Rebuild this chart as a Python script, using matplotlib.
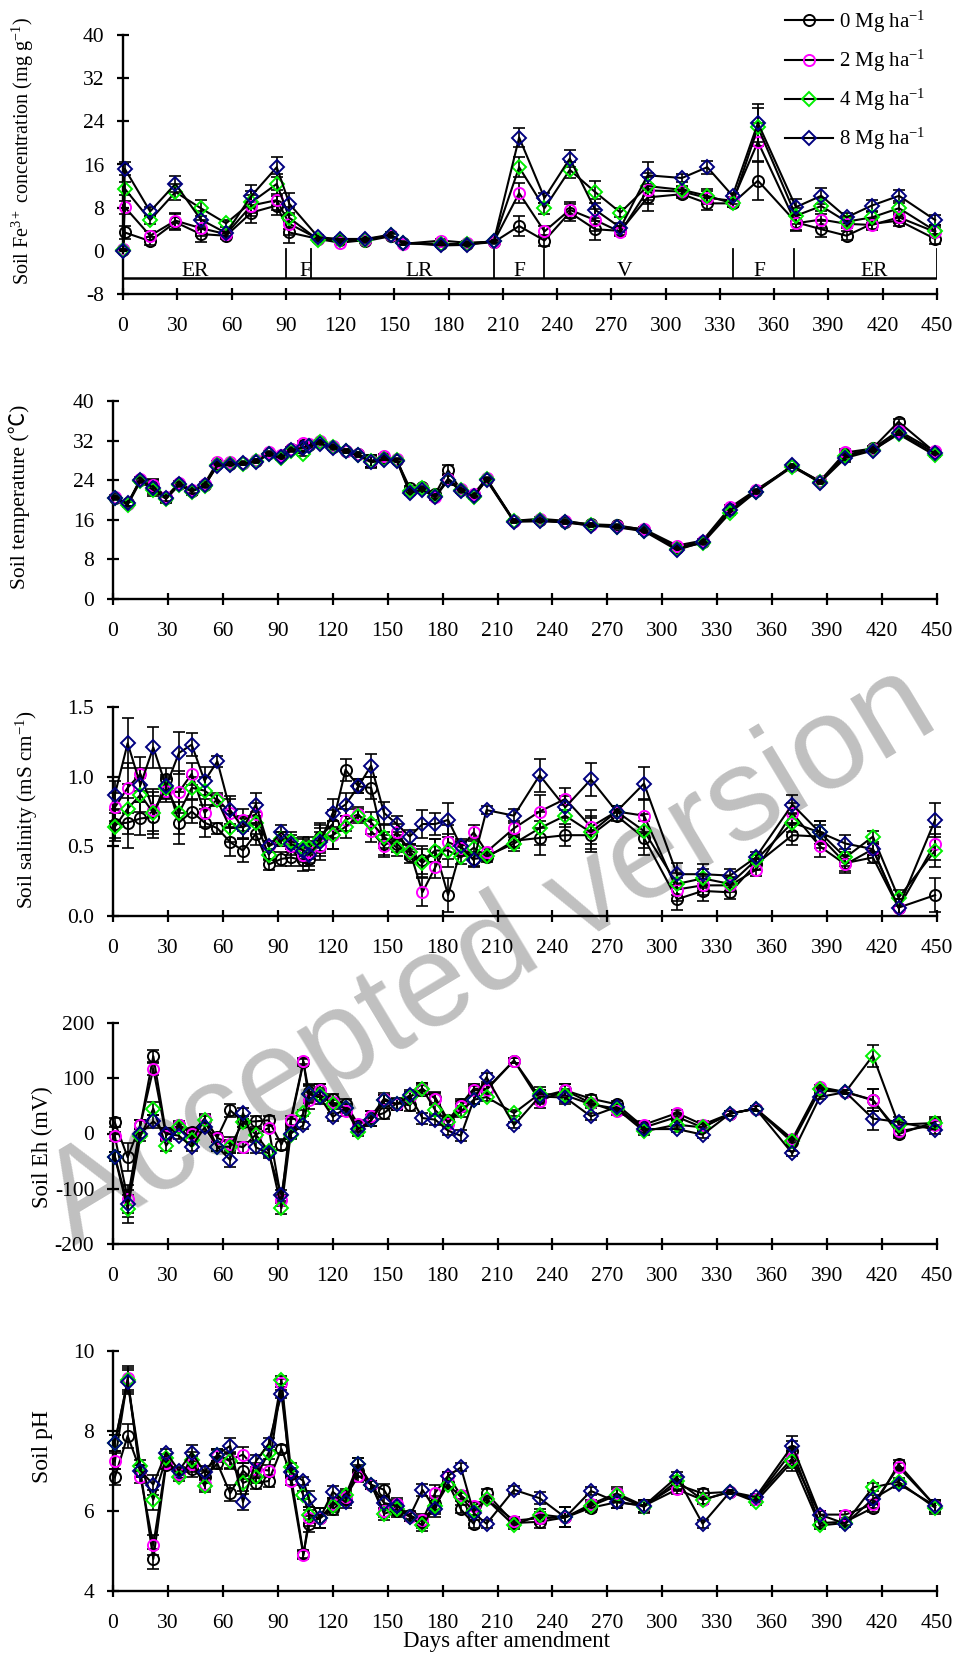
import matplotlib
matplotlib.use("Agg")
import matplotlib.pyplot as plt

# ======================
# FONTS
# ======================
plt.rcParams['font.family'] = ['Liberation Serif', 'DejaVu Serif']
plt.rcParams['mathtext.fontset'] = 'custom'
plt.rcParams['mathtext.rm'] = 'Liberation Serif'
plt.rcParams['mathtext.it'] = 'Liberation Serif:italic'
plt.rcParams['axes.unicode_minus'] = False

# ======================
# DATA
# ======================
# Fe3+ panel has its own sampling days
days_fe = [0, 1, 15, 29, 43, 57, 71, 85, 92, 108, 120, 134, 148, 155, 176, 190, 205,
           219, 233, 247, 261, 275, 290, 309, 323, 337, 351, 372, 386, 400, 414, 429, 449]
fe_0 = [0.2, 3.4, 1.8, 5.3, 3.1, 2.8, 7.1, 8.4, 3.4, 2.2, 2.0, 1.8, 2.7, 1.4, 1.3, 1.2, 1.6,
        4.6, 1.9, 7.1, 4.0, 3.7, 9.9, 10.5, 8.8, 8.8, 13.0, 5.3, 4.0, 2.8, 5.0, 5.6, 2.2]
fe_2 = [0.4, 8.1, 2.8, 5.6, 4.2, 3.1, 8.4, 9.4, 5.0, 2.2, 1.5, 2.0, 2.9, 1.3, 1.9, 1.5, 1.7,
        10.7, 3.6, 7.6, 5.7, 3.5, 11.2, 11.0, 9.8, 9.3, 20.2, 5.1, 5.8, 5.0, 4.8, 6.2, 3.5]
fe_4 = [0.2, 11.5, 5.7, 10.9, 7.9, 5.1, 9.0, 12.4, 6.1, 2.0, 2.0, 2.1, 2.9, 1.4, 1.2, 1.3, 1.8,
        15.5, 7.9, 15.0, 10.9, 7.1, 12.0, 11.3, 10.2, 8.8, 22.9, 6.5, 8.3, 5.4, 6.2, 7.9, 3.7]
fe_8 = [0.0, 15.2, 7.3, 12.4, 5.8, 3.3, 10.2, 15.5, 8.7, 2.5, 2.2, 2.2, 3.0, 1.5, 1.0, 1.1, 1.8,
        21.0, 9.8, 17.1, 7.6, 4.3, 14.0, 13.5, 15.5, 10.2, 23.7, 8.1, 10.2, 6.2, 8.4, 10.2, 5.7]
fe_err = [0.0, 1.2, 0.8, 1.5, 1.5, 0.6, 2.0, 1.8, 2.0, 0.4, 0.3, 0.3, 0.4, 0.3, 0.3, 0.3, 0.3,
          1.8, 1.0, 1.5, 2.0, 0.8, 2.5, 0.8, 1.2, 0.6, 3.5, 1.5, 1.5, 0.8, 1.0, 1.0, 1.0]

# crop stages drawn under the Fe3+ data
stage_bounds = [90, 104, 205, 233, 337, 371, 450]
stage_labels = ['ER', 'F', 'LR', 'F', 'V', 'F', 'ER']
stage_label_x = [40, 101, 164, 219, 277, 352, 415]

# sampling days for the other four panels
days = [1, 8, 15, 22, 29, 36, 43, 50, 57, 64, 71, 78, 85, 92, 97, 104, 107, 113, 120, 127,
        134, 141, 148, 155, 162, 169, 176, 183, 190, 197, 204, 219, 233, 247, 261, 275, 290,
        308, 322, 337, 351, 371, 386, 400, 415, 429, 449]

temp_0 = [20.5, 19.3, 24.0, 22.8, 20.4, 23.2, 21.9, 23.0, 27.3, 27.3, 27.4, 27.9, 29.4, 28.8,
          30.3, 31.2, 31.2, 31.8, 30.8, 29.9, 29.2, 27.8, 28.5, 28.0, 22.5, 22.6, 21.2, 26.0,
          22.0, 21.0, 24.2, 15.8, 15.9, 15.6, 15.1, 14.9, 14.0, 10.4, 11.6, 18.2, 21.8, 26.9,
          23.8, 29.0, 30.5, 35.8, 29.6]
temp_2 = [20.7, 19.2, 24.3, 23.1, 20.6, 23.5, 22.0, 23.3, 27.6, 27.6, 27.5, 28.0, 29.7, 29.0,
          30.4, 31.6, 31.4, 31.9, 31.0, 30.0, 29.3, 27.9, 28.8, 28.2, 21.8, 22.4, 20.7, 24.3,
          22.3, 21.2, 24.4, 15.8, 16.2, 15.8, 15.0, 14.7, 14.1, 10.8, 11.8, 18.5, 22.0, 26.8,
          23.8, 29.6, 30.4, 34.0, 29.8]
temp_4 = [20.4, 19.0, 23.8, 22.0, 20.2, 23.0, 21.7, 22.8, 27.1, 27.2, 27.3, 27.8, 29.2, 28.4,
          30.0, 29.2, 31.0, 31.8, 30.7, 29.8, 29.0, 27.8, 28.3, 28.0, 21.9, 22.4, 20.8, 24.1,
          22.0, 20.6, 24.2, 15.7, 15.9, 15.5, 14.9, 14.6, 13.8, 10.2, 11.3, 17.4, 21.6, 26.7,
          23.6, 28.8, 30.1, 33.3, 29.0]
temp_8 = [20.5, 19.3, 24.0, 22.5, 20.4, 23.2, 21.8, 23.0, 26.9, 27.1, 27.4, 27.7, 29.2, 28.6,
          30.1, 30.6, 31.0, 31.4, 30.5, 29.8, 29.0, 27.6, 28.1, 27.9, 21.5, 22.0, 20.6, 24.0,
          21.8, 20.8, 24.0, 15.6, 15.7, 15.5, 14.8, 14.5, 13.7, 9.9, 11.5, 17.9, 21.6, 27.0,
          23.5, 28.5, 30.0, 33.6, 29.4]
temp_err = [0.3, 0.5, 0.4, 1.2, 0.8, 0.4, 0.6, 0.3, 0.3, 0.3, 0.3, 0.3, 0.3, 0.4, 0.3, 0.4,
            0.4, 0.3, 0.3, 0.4, 0.4, 1.2, 0.5, 0.3, 0.4, 0.3, 0.5, 1.0, 0.3, 0.3, 0.3, 0.3,
            0.3, 0.3, 0.3, 0.3, 0.5, 0.3, 0.3, 0.4, 0.3, 0.3, 0.3, 0.8, 0.4, 0.6, 0.4]

sal_0 = [0.66, 0.67, 0.70, 0.71, 0.98, 0.67, 0.75, 0.67, 0.63, 0.53, 0.47, 0.59, 0.37, 0.41,
         0.42, 0.40, 0.41, 0.57, 0.66, 1.05, 0.93, 0.92, 0.52, 0.52, 0.43, 0.40, 0.47, 0.15,
         0.48, 0.41, 0.42, 0.54, 0.56, 0.58, 0.58, 0.72, 0.56, 0.12, 0.18, 0.17, 0.37, 0.58,
         0.57, 0.38, 0.42, 0.06, 0.15]
sal_2 = [0.78, 0.92, 1.02, 0.76, 0.90, 0.89, 1.02, 0.74, 0.84, 0.74, 0.69, 0.73, 0.50, 0.55,
         0.50, 0.44, 0.46, 0.50, 0.58, 0.69, 0.73, 0.61, 0.50, 0.60, 0.47, 0.17, 0.35, 0.53,
         0.49, 0.60, 0.46, 0.63, 0.75, 0.84, 0.64, 0.75, 0.72, 0.19, 0.22, 0.22, 0.33, 0.74,
         0.50, 0.37, 0.48, 0.06, 0.52]
sal_4 = [0.64, 0.77, 0.87, 0.74, 0.92, 0.74, 0.92, 0.90, 0.83, 0.63, 0.64, 0.67, 0.44, 0.55,
         0.54, 0.49, 0.49, 0.55, 0.58, 0.64, 0.72, 0.67, 0.57, 0.49, 0.46, 0.38, 0.47, 0.47,
         0.42, 0.49, 0.43, 0.52, 0.63, 0.72, 0.60, 0.75, 0.61, 0.23, 0.27, 0.23, 0.40, 0.67,
         0.60, 0.42, 0.57, 0.13, 0.47]
sal_8 = [0.87, 1.24, 0.94, 1.21, 0.93, 1.17, 1.23, 0.97, 1.11, 0.76, 0.63, 0.80, 0.50, 0.60,
         0.52, 0.47, 0.44, 0.53, 0.74, 0.80, 0.93, 1.08, 0.74, 0.66, 0.57, 0.66, 0.66, 0.69,
         0.50, 0.40, 0.76, 0.72, 1.01, 0.78, 0.98, 0.75, 0.95, 0.30, 0.30, 0.29, 0.42, 0.80,
         0.60, 0.52, 0.48, 0.06, 0.69]
sal_err = [0.10, 0.18, 0.12, 0.15, 0.08, 0.15, 0.08, 0.10, 0.04, 0.10, 0.08, 0.08, 0.04, 0.05,
           0.06, 0.08, 0.08, 0.10, 0.10, 0.08, 0.05, 0.08, 0.08, 0.06, 0.05, 0.10, 0.08, 0.12,
           0.05, 0.05, 0.03, 0.05, 0.12, 0.08, 0.12, 0.04, 0.12, 0.08, 0.07, 0.05, 0.04, 0.07,
           0.08, 0.06, 0.04, 0.06, 0.12]

eh_0 = [20, -43, 16, 140, 0, 15, 2, 25, -7, 42, 21, 22, 24, -20, 19, 129, 75, 78, 63, 54,
        16, 30, 37, 55, 51, 78, 65, 24, 53, 81, 81, 132, 66, 78, 63, 53, 11, 30, 11, 36, 45,
        -16, 78, 75, 61, -1, 21]
eh_2 = [-5, -118, 16, 117, -4, 16, -1, 27, -8, -19, -25, -2, 10, -121, 24, 131, 60, 78, 57,
        40, 18, 31, 63, 53, 66, 81, 63, 18, 49, 78, 79, 132, 59, 78, 55, 40, 16, 37, 16, 36,
        45, -10, 84, 75, 60, 4, 15]
eh_4 = [-42, -137, -5, 45, -22, 11, -11, 24, -24, -24, 21, -2, -32, -135, -2, 37, 72, 70, 53,
        46, 2, 24, 60, 53, 66, 81, 42, 21, 40, 61, 66, 37, 72, 69, 53, 45, 4, 16, 11, 36, 45,
        -13, 81, 75, 141, 16, 19]
eh_8 = [-42, -127, 0, 22, 0, -4, -24, 11, -24, -48, 37, -25, -36, -112, 0, 15, 71, 66, 30,
        46, 8, 24, 60, 53, 69, 28, 25, 5, -4, 61, 102, 15, 67, 65, 31, 48, 8, 8, -2, 36, 45,
        -36, 66, 75, 27, 21, 7]
eh_err = [8, 25, 8, 12, 10, 6, 8, 8, 8, 12, 10, 10, 8, 10, 8, 6, 15, 12, 8, 8, 6, 10, 10, 10,
          10, 10, 10, 8, 10, 8, 8, 5, 12, 12, 6, 6, 6, 6, 6, 4, 4, 5, 4, 4, 20, 8, 8]

ph_0 = [6.84, 7.88, 7.00, 4.80, 7.15, 6.93, 7.06, 6.84, 7.19, 6.44, 7.01, 6.70, 6.75, 7.55,
        6.93, 4.93, 5.68, 5.82, 6.04, 6.30, 7.01, 6.66, 6.53, 5.99, 5.90, 5.73, 6.17, 6.70,
        6.04, 5.68, 6.44, 5.70, 5.73, 5.84, 6.08, 6.22, 6.13, 6.66, 6.44, 6.48, 6.30, 7.50,
        5.70, 5.73, 6.08, 7.17, 6.13]
ph_2 = [7.24, 9.32, 6.85, 5.15, 7.21, 6.93, 7.17, 6.68, 7.37, 7.28, 7.41, 7.06, 7.01, 9.21,
        6.75, 4.89, 5.82, 5.82, 6.17, 6.35, 6.88, 6.66, 5.99, 6.17, 5.86, 5.77, 6.46, 6.88,
        6.39, 6.13, 6.30, 5.76, 5.82, 5.84, 6.17, 6.44, 6.13, 6.54, 6.28, 6.48, 6.30, 7.32,
        5.91, 5.91, 6.17, 7.10, 6.13]
ph_4 = [7.71, 9.27, 7.12, 6.28, 7.32, 6.85, 7.28, 6.62, 7.41, 7.24, 6.70, 6.84, 7.46, 9.27,
        7.10, 6.39, 5.91, 5.82, 6.13, 6.39, 7.17, 6.66, 5.93, 6.04, 5.86, 5.64, 6.13, 6.66,
        6.35, 5.99, 6.29, 5.64, 5.91, 5.84, 6.13, 6.39, 6.10, 6.75, 6.28, 6.48, 6.23, 7.24,
        5.64, 5.70, 6.59, 6.73, 6.08]
ph_8 = [7.71, 9.23, 7.01, 6.66, 7.46, 7.01, 7.46, 6.97, 7.41, 7.63, 6.22, 7.24, 7.68, 8.92,
        6.97, 6.75, 6.30, 5.82, 6.48, 6.22, 7.17, 6.66, 6.20, 6.13, 5.86, 6.53, 6.04, 6.88,
        7.09, 5.95, 5.68, 6.53, 6.32, 5.84, 6.50, 6.23, 6.13, 6.85, 5.68, 6.48, 6.35, 7.63,
        5.91, 5.68, 6.30, 6.68, 6.13]
ph_err = [0.2, 0.3, 0.15, 0.25, 0.1, 0.1, 0.2, 0.15, 0.15, 0.2, 0.2, 0.15, 0.15, 0.1, 0.1,
          0.1, 0.2, 0.25, 0.15, 0.15, 0.15, 0.1, 0.15, 0.15, 0.1, 0.15, 0.2, 0.1, 0.1, 0.1,
          0.1, 0.1, 0.15, 0.25, 0.1, 0.15, 0.15, 0.12, 0.1, 0.05, 0.08, 0.25, 0.1, 0.08, 0.1,
          0.1, 0.15]

rates = ['0', '2', '4', '8']

# ======================
# STYLE
# ======================
colors = ['black', '#ff00ff', '#00ee00', '#000080']
markers = ['o', 'o', 'D', 'D']
msizes = [8, 8, 7, 7]
TICK_FS = 15.5


def draw_panel(ax, x, series, err):
    lines = []
    for i, y in enumerate(series):
        ax.errorbar(x, y, yerr=err, fmt='none', ecolor='black', elinewidth=1.2,
                    capsize=4, capthick=1.2, clip_on=False, zorder=2)
        ln, = ax.plot(x, y, color='black', lw=1.5, marker=markers[i], ms=msizes[i],
                      mfc='none', mec=colors[i], mew=1.4, clip_on=False, zorder=3 + i,
                      label=rates[i] + ' Mg ha$^{-1}$')
        lines.append(ln)
    return lines


def style_axes(ax, ylim, yticks, ylabel, ylab_x, ylab_y, ylab_fs):
    ax.set_xlim(0, 450)
    ax.set_ylim(*ylim)
    ax.set_xticks(range(0, 451, 30))
    ax.set_yticks(yticks)
    for s in ['top', 'right']:
        ax.spines[s].set_visible(False)
    for s in ['left', 'bottom']:
        ax.spines[s].set_linewidth(1.7)
    ax.tick_params(direction='inout', length=9, width=1.6, labelsize=TICK_FS, pad=9)
    ax.tick_params(axis='x', pad=12)
    ax.set_ylabel(ylabel, fontsize=ylab_fs, va='center')
    ax.yaxis.set_label_coords(ylab_x, ylab_y)
    ax.patch.set_visible(False)


# ======================
# FIGURE
# ======================
W, H = 961, 1657
fig = plt.figure(figsize=(W / 100, H / 100), dpi=100)


def add_axes(x0, x1, ytop, ybot):
    return fig.add_axes([x0 / W, 1 - ybot / H, (x1 - x0) / W, (ybot - ytop) / H])


ax1 = add_axes(123, 937, 35, 294)
ax2 = add_axes(113, 937, 401, 599)
ax3 = add_axes(113, 937, 707, 916)
ax4 = add_axes(113, 937, 1023, 1244)
ax5 = add_axes(113, 937, 1351, 1591)

# ---- Fe3+ ----
handles = draw_panel(ax1, days_fe, [fe_0, fe_2, fe_4, fe_8], fe_err)
style_axes(ax1, (-8, 40), range(-8, 41, 8),
           'Soil Fe$^{3+}$ concentration (mg g$^{-1}$)', -0.123, 0.55, 14.5)
ax1.plot([0, 450], [-5, -5], color='black', lw=1.8, zorder=1)
for b in stage_bounds:
    ax1.plot([b, b], [0.4, -5], color='black', lw=1.3, zorder=1)
for lx, lab in zip(stage_label_x, stage_labels):
    ax1.text(lx, -4.7, lab, ha='center', va='baseline', fontsize=15.5)

fig.legend(handles=handles, loc='upper left', bbox_to_anchor=(0.802, 1.0035),
           frameon=False, fontsize=15, handlelength=2.3, handletextpad=0.3,
           labelspacing=0.62, borderpad=0.2)

# ---- temperature ----
draw_panel(ax2, days, [temp_0, temp_2, temp_4, temp_8], temp_err)
style_axes(ax2, (0, 40), range(0, 41, 8), 'Soil temperature (\u2103)', -0.114, 0.515, 15.5)
ax2.yaxis.label.set_family(['Liberation Serif', 'Noto Sans CJK SC'])

# ---- salinity ----
draw_panel(ax3, days, [sal_0, sal_2, sal_4, sal_8], sal_err)
style_axes(ax3, (0, 1.5), [0, 0.5, 1.0, 1.5], 'Soil salinity (mS cm$^{-1}$)',
           -0.104, 0.51, 15.3)
ax3.yaxis.set_major_formatter(matplotlib.ticker.FormatStrFormatter('%.1f'))

# ---- Eh ----
draw_panel(ax4, days, [eh_0, eh_2, eh_4, eh_8], eh_err)
style_axes(ax4, (-200, 200), range(-200, 201, 100), 'Soil Eh (mV)', -0.086, 0.44, 16.3)

# ---- pH ----
draw_panel(ax5, days, [ph_0, ph_2, ph_4, ph_8], ph_err)
style_axes(ax5, (4, 10), [4, 6, 8, 10], 'Soil pH', -0.086, 0.6, 17)
ax5.set_xlabel('Days after amendment', fontsize=16.5, va='center')
ax5.xaxis.set_label_coords(0.478, -0.2125)

# watermark behind the data
fig.text(0.51, 0.4225, 'Accepted version', rotation=31, fontsize=95, color='#c0c0c0',
         family='Liberation Sans', ha='center', va='center', zorder=-1)

fig.savefig('out.png', dpi=100)
